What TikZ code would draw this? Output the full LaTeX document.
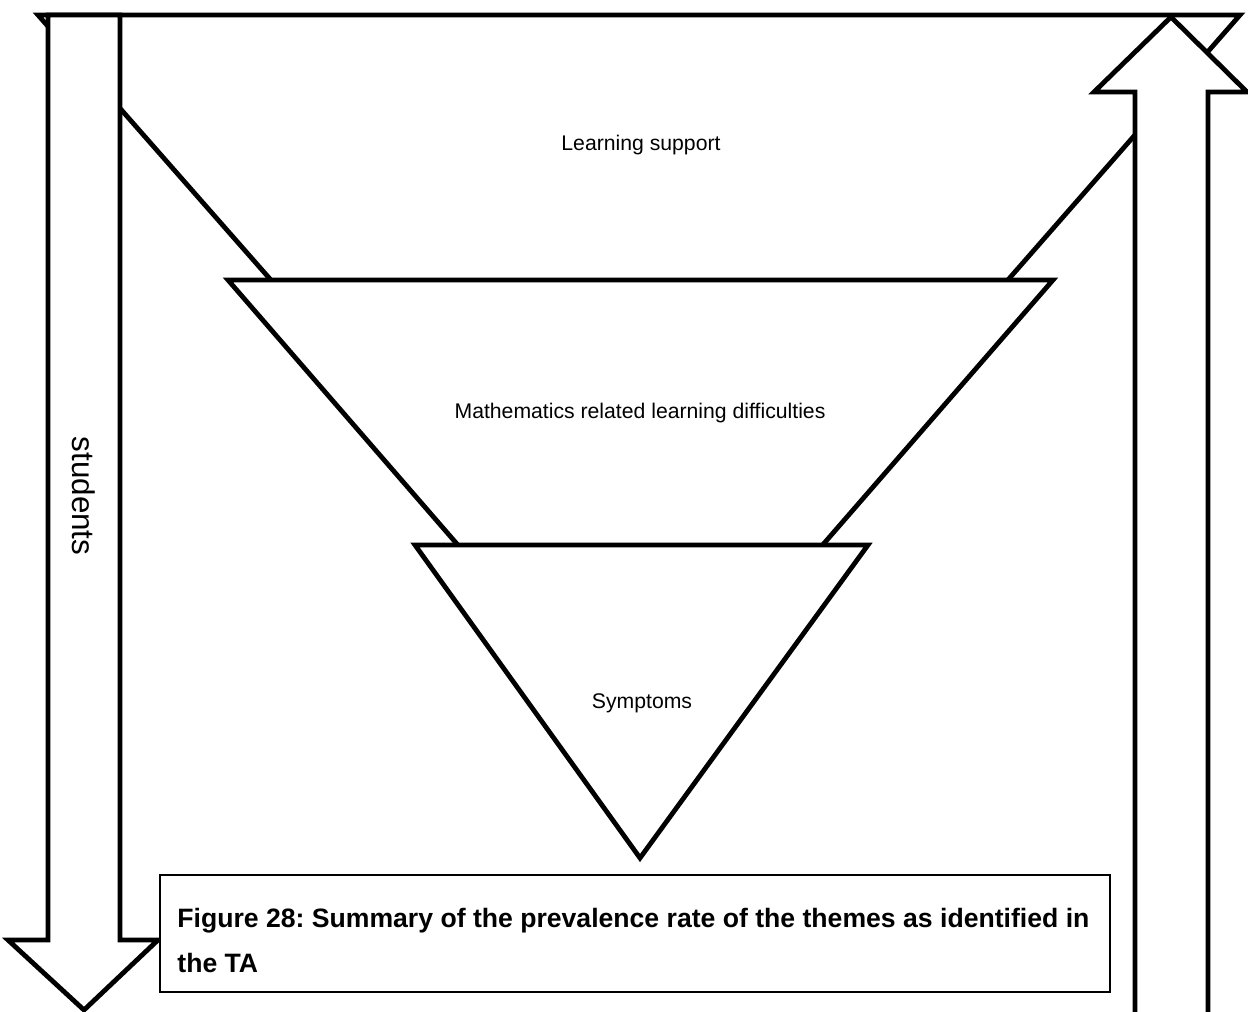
\documentclass[tikz,border=0pt]{standalone}
\usepackage{fontspec}
\setmainfont{Liberation Sans}
\frenchspacing
\tikzset{
  % white shapes with a heavy black outline
  funnel/.style={draw=black, fill=white, line width=2.4pt, line join=miter},
  themetext/.style={font=\fontsize{10.6}{12}\selectfont, inner sep=0pt},
}
\begin{document}
\begin{tikzpicture}[x=0.5pt,y=-0.5pt]
\useasboundingbox (0,0) rectangle (1248,1012);

%Shape: Triangle [outer]
\draw [funnel] (38,15) -- (1240,15) -- (640,700) -- cycle ;
%Shape: Triangle [middle]
\draw [funnel] (228,280) -- (1053,280) -- (640,755) -- cycle ;
%Shape: Triangle [inner]
\draw [funnel] (415,545) -- (868,545) -- (640,858) -- cycle ;

%Shape: Down Arrow
\draw [funnel] (48,15) -- (120,15) -- (120,940) -- (158,940) -- (84,1010) -- (8,940) -- (48,940) -- cycle ;
%Shape: Up Arrow
\draw [funnel] (1135,1040) -- (1135,92) -- (1094,92) -- (1171,17) -- (1247,92) -- (1208,92) -- (1208,1040) -- cycle ;

% Text Node
\node [themetext] (support) at (641,145) {Learning support};
% Text Node
\node [themetext] (mathsld) at (640,413) {Mathematics related learning difficulties};
% Text Node
\node [themetext] (symptoms) at (642,703) {Symptoms};
% Text Node
\node [font=\fontsize{15.7}{18}\selectfont, rotate=-90, inner sep=0pt] (students) at (84,496) {students};

%Shape: Rectangle [caption]
\draw [line width=0.6pt, fill=white] (160,875) rectangle (1110,992) ;
% Text Node
\node [anchor=west, align=left, inner sep=0pt, font=\bfseries\fontsize{13.3}{22.5}\selectfont] (caption) at (177,940)
  {Figure 28: Summary of the prevalence rate of the themes as identified in\\the TA};

\end{tikzpicture}
\end{document}
